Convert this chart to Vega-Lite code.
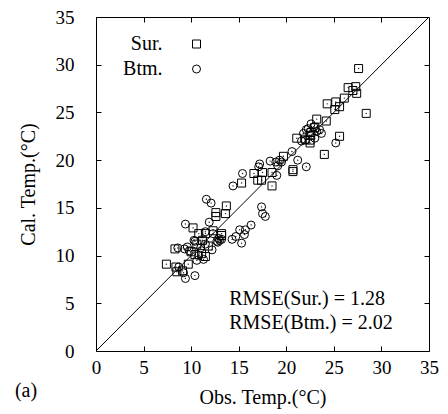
{
  "$schema": "https://vega.github.io/schema/vega-lite/v6.json",
  "width": 333,
  "height": 334,
  "autosize": "none",
  "padding": {"left": 96, "top": 17, "right": 19, "bottom": 63},
  "background": "white",
  "config": {
    "view": {"stroke": "black", "strokeWidth": 1},
    "font": "Liberation Serif",
    "text": {"font": "Liberation Serif", "color": "black"}
  },
  "datasets": {
    "pts": [
      {"type": "Sur.", "obs": 27.6, "cal": 29.6},
      {"type": "Sur.", "obs": 28.4, "cal": 24.9},
      {"type": "Sur.", "obs": 26.5, "cal": 27.6},
      {"type": "Sur.", "obs": 27.3, "cal": 27.7},
      {"type": "Sur.", "obs": 27.4, "cal": 27.0},
      {"type": "Sur.", "obs": 27.0, "cal": 27.3},
      {"type": "Sur.", "obs": 24.3, "cal": 25.9},
      {"type": "Sur.", "obs": 25.2, "cal": 26.1},
      {"type": "Sur.", "obs": 25.6, "cal": 25.6},
      {"type": "Sur.", "obs": 26.1, "cal": 26.5},
      {"type": "Sur.", "obs": 25.1, "cal": 25.3},
      {"type": "Sur.", "obs": 23.2, "cal": 24.3},
      {"type": "Sur.", "obs": 24.2, "cal": 24.1},
      {"type": "Sur.", "obs": 25.6, "cal": 22.5},
      {"type": "Sur.", "obs": 24.0, "cal": 20.6},
      {"type": "Sur.", "obs": 21.1, "cal": 22.3},
      {"type": "Sur.", "obs": 22.5, "cal": 22.6},
      {"type": "Sur.", "obs": 22.5, "cal": 22.1},
      {"type": "Sur.", "obs": 22.5, "cal": 21.8},
      {"type": "Sur.", "obs": 22.6, "cal": 22.9},
      {"type": "Sur.", "obs": 23.0, "cal": 23.4},
      {"type": "Sur.", "obs": 22.0, "cal": 22.2},
      {"type": "Sur.", "obs": 20.7, "cal": 19.0},
      {"type": "Sur.", "obs": 20.7, "cal": 18.8},
      {"type": "Sur.", "obs": 19.7, "cal": 20.4},
      {"type": "Sur.", "obs": 16.6, "cal": 18.6},
      {"type": "Sur.", "obs": 17.5, "cal": 18.7},
      {"type": "Sur.", "obs": 18.5, "cal": 18.7},
      {"type": "Sur.", "obs": 17.4, "cal": 17.9},
      {"type": "Sur.", "obs": 17.0, "cal": 17.9},
      {"type": "Sur.", "obs": 18.5, "cal": 17.3},
      {"type": "Sur.", "obs": 15.3, "cal": 17.6},
      {"type": "Sur.", "obs": 13.7, "cal": 15.2},
      {"type": "Sur.", "obs": 12.6, "cal": 14.5},
      {"type": "Sur.", "obs": 13.6, "cal": 14.4},
      {"type": "Sur.", "obs": 12.6, "cal": 14.1},
      {"type": "Sur.", "obs": 10.2, "cal": 12.9},
      {"type": "Sur.", "obs": 10.8, "cal": 12.3},
      {"type": "Sur.", "obs": 11.5, "cal": 12.3},
      {"type": "Sur.", "obs": 13.2, "cal": 12.3},
      {"type": "Sur.", "obs": 13.2, "cal": 12.1},
      {"type": "Sur.", "obs": 8.3, "cal": 10.7},
      {"type": "Sur.", "obs": 7.4, "cal": 9.1},
      {"type": "Sur.", "obs": 8.4, "cal": 8.8},
      {"type": "Sur.", "obs": 9.7, "cal": 9.1},
      {"type": "Sur.", "obs": 8.5, "cal": 8.3},
      {"type": "Sur.", "obs": 9.1, "cal": 8.4},
      {"type": "Sur.", "obs": 10.4, "cal": 10.1},
      {"type": "Sur.", "obs": 11.1, "cal": 10.2},
      {"type": "Sur.", "obs": 11.5, "cal": 9.9},
      {"type": "Sur.", "obs": 10.6, "cal": 11.2},
      {"type": "Sur.", "obs": 11.8, "cal": 11.0},
      {"type": "Sur.", "obs": 10.0, "cal": 10.4},
      {"type": "Sur.", "obs": 12.3, "cal": 12.6},
      {"type": "Sur.", "obs": 11.2, "cal": 11.6},
      {"type": "Btm.", "obs": 25.2, "cal": 21.8},
      {"type": "Btm.", "obs": 22.6, "cal": 23.8},
      {"type": "Btm.", "obs": 22.9, "cal": 23.5},
      {"type": "Btm.", "obs": 22.3, "cal": 23.3},
      {"type": "Btm.", "obs": 22.1, "cal": 23.2},
      {"type": "Btm.", "obs": 21.8, "cal": 22.8},
      {"type": "Btm.", "obs": 23.5, "cal": 23.2},
      {"type": "Btm.", "obs": 23.7, "cal": 22.8},
      {"type": "Btm.", "obs": 23.2, "cal": 23.0},
      {"type": "Btm.", "obs": 22.0, "cal": 22.1},
      {"type": "Btm.", "obs": 21.6, "cal": 22.0},
      {"type": "Btm.", "obs": 23.0, "cal": 22.3},
      {"type": "Btm.", "obs": 20.6, "cal": 20.9},
      {"type": "Btm.", "obs": 21.2, "cal": 20.0},
      {"type": "Btm.", "obs": 22.1, "cal": 19.3},
      {"type": "Btm.", "obs": 19.5, "cal": 19.8},
      {"type": "Btm.", "obs": 18.3, "cal": 19.9},
      {"type": "Btm.", "obs": 18.9, "cal": 19.8},
      {"type": "Btm.", "obs": 19.3, "cal": 20.0},
      {"type": "Btm.", "obs": 19.1, "cal": 19.4},
      {"type": "Btm.", "obs": 17.2, "cal": 19.6},
      {"type": "Btm.", "obs": 17.1, "cal": 19.3},
      {"type": "Btm.", "obs": 19.0, "cal": 18.4},
      {"type": "Btm.", "obs": 15.4, "cal": 18.6},
      {"type": "Btm.", "obs": 17.4, "cal": 15.1},
      {"type": "Btm.", "obs": 17.5, "cal": 14.4},
      {"type": "Btm.", "obs": 17.8, "cal": 14.1},
      {"type": "Btm.", "obs": 14.4, "cal": 17.3},
      {"type": "Btm.", "obs": 11.6, "cal": 15.9},
      {"type": "Btm.", "obs": 12.1, "cal": 15.5},
      {"type": "Btm.", "obs": 9.4, "cal": 13.3},
      {"type": "Btm.", "obs": 11.9, "cal": 13.5},
      {"type": "Btm.", "obs": 10.4, "cal": 11.5},
      {"type": "Btm.", "obs": 12.3, "cal": 12.3},
      {"type": "Btm.", "obs": 12.9, "cal": 11.8},
      {"type": "Btm.", "obs": 13.0, "cal": 11.6},
      {"type": "Btm.", "obs": 13.2, "cal": 11.7},
      {"type": "Btm.", "obs": 12.8, "cal": 11.4},
      {"type": "Btm.", "obs": 15.1, "cal": 12.7},
      {"type": "Btm.", "obs": 16.3, "cal": 13.2},
      {"type": "Btm.", "obs": 15.7, "cal": 12.7},
      {"type": "Btm.", "obs": 14.7, "cal": 12.0},
      {"type": "Btm.", "obs": 14.3, "cal": 11.7},
      {"type": "Btm.", "obs": 15.3, "cal": 11.3},
      {"type": "Btm.", "obs": 15.6, "cal": 12.2},
      {"type": "Btm.", "obs": 8.6, "cal": 10.8},
      {"type": "Btm.", "obs": 9.3, "cal": 10.7},
      {"type": "Btm.", "obs": 9.8, "cal": 10.5},
      {"type": "Btm.", "obs": 10.3, "cal": 11.6},
      {"type": "Btm.", "obs": 12.2, "cal": 10.6},
      {"type": "Btm.", "obs": 11.3, "cal": 9.6},
      {"type": "Btm.", "obs": 10.6, "cal": 9.5},
      {"type": "Btm.", "obs": 9.4, "cal": 7.6},
      {"type": "Btm.", "obs": 10.4, "cal": 7.9},
      {"type": "Btm.", "obs": 8.7, "cal": 8.8},
      {"type": "Btm.", "obs": 9.2, "cal": 8.2},
      {"type": "Btm.", "obs": 11.0, "cal": 10.8},
      {"type": "Btm.", "obs": 11.5, "cal": 11.2},
      {"type": "Btm.", "obs": 10.8, "cal": 10.0},
      {"type": "Btm.", "obs": 12.7, "cal": 11.5},
      {"type": "Btm.", "obs": 9.6, "cal": 10.9},
      {"type": "Btm.", "obs": 11.5, "cal": 12.5}
    ]
  },
  "layer": [
    {
      "data": {"values": [{"v": 0}, {"v": 35}]},
      "mark": {"type": "line", "color": "black", "strokeWidth": 1},
      "encoding": {
        "x": {
          "field": "v", "type": "quantitative",
          "scale": {"domain": [0, 35], "nice": false, "zero": false},
          "axis": {
            "orient": "bottom", "values": [0, 5, 10, 15, 20, 25, 30, 35],
            "domain": false, "grid": false, "tickSize": -5, "tickColor": "black",
            "labelFont": "Liberation Serif", "labelFontSize": 19, "labelColor": "black",
            "labelPadding": 12, "labelFlush": false, "labelOverlap": false,
            "title": "Obs. Temp.(°C)", "titleFont": "Liberation Serif", "titleFontSize": 20,
            "titleFontWeight": "normal", "titleColor": "black", "titlePadding": 10
          }
        },
        "y": {
          "field": "v", "type": "quantitative",
          "scale": {"domain": [0, 35], "nice": false, "zero": false},
          "axis": {
            "orient": "left", "values": [0, 5, 10, 15, 20, 25, 30, 35],
            "domain": false, "grid": false, "tickSize": -5, "tickColor": "black",
            "labelFont": "Liberation Serif", "labelFontSize": 19, "labelColor": "black",
            "labelPadding": 27, "labelFlush": false, "labelOverlap": false,
            "title": "Cal. Temp.(°C)", "titleFont": "Liberation Serif", "titleFontSize": 20,
            "titleFontWeight": "normal", "titleColor": "black", "titlePadding": 17
          }
        }
      }
    },
    {
      "data": {"name": "pts"},
      "mark": {"type": "point", "filled": false, "stroke": "black", "strokeWidth": 1, "size": 64, "opacity": 1},
      "encoding": {
        "x": {
          "field": "obs", "type": "quantitative",
          "axis": {"orient": "top", "values": [5, 10, 15, 20, 25, 30], "labels": false, "domain": false, "grid": false, "tickSize": -5, "tickColor": "black", "title": null}
        },
        "y": {
          "field": "cal", "type": "quantitative",
          "axis": {"orient": "right", "values": [5, 10, 15, 20, 25, 30], "labels": false, "domain": false, "grid": false, "tickSize": -5, "tickColor": "black", "title": null}
        },
        "shape": {
          "field": "type", "type": "nominal",
          "scale": {"domain": ["Sur.", "Btm."], "range": ["square", "circle"]},
          "legend": {
            "orient": "none", "legendX": 90.5, "legendY": 17, "title": null,
            "labelAlign": "right", "labelOffset": -44, "labelFont": "Liberation Serif",
            "labelFontSize": 20, "labelColor": "black", "symbolSize": 64,
            "symbolStrokeColor": "black", "symbolStrokeWidth": 1, "symbolFillColor": "transparent",
            "rowPadding": 5, "padding": 0
          }
        }
      }
    },
    {
      "data": {"name": "pts"},
      "mark": {"type": "circle", "color": "black", "size": 2, "opacity": 0.9},
      "encoding": {
        "x": {"field": "obs", "type": "quantitative", "axis": null},
        "y": {"field": "cal", "type": "quantitative", "axis": null}
      }
    },
    {
      "data": {"values": [{"label": "RMSE(Sur.) = 1.28"}]},
      "mark": {"type": "text", "align": "left", "baseline": "alphabetic", "fontSize": 20, "font": "Liberation Serif", "color": "black"},
      "encoding": {
        "x": {"datum": 14.0, "type": "quantitative", "axis": null},
        "y": {"datum": 4.82, "type": "quantitative", "axis": null},
        "text": {"field": "label"}
      }
    },
    {
      "data": {"values": [{"label": "RMSE(Btm.) = 2.02"}]},
      "mark": {"type": "text", "align": "left", "baseline": "alphabetic", "fontSize": 20, "font": "Liberation Serif", "color": "black"},
      "encoding": {
        "x": {"datum": 14.0, "type": "quantitative", "axis": null},
        "y": {"datum": 2.31, "type": "quantitative", "axis": null},
        "text": {"field": "label"}
      }
    },
    {
      "data": {"values": [{"label": "(a)"}]},
      "mark": {"type": "text", "align": "center", "baseline": "alphabetic", "fontSize": 20, "font": "Liberation Serif", "color": "black"},
      "encoding": {
        "x": {"datum": -7.36, "type": "quantitative", "axis": null},
        "y": {"datum": -4.82, "type": "quantitative", "axis": null},
        "text": {"field": "label"}
      }
    }
  ],
  "resolve": {"axis": {"x": "independent", "y": "independent"}}
}
